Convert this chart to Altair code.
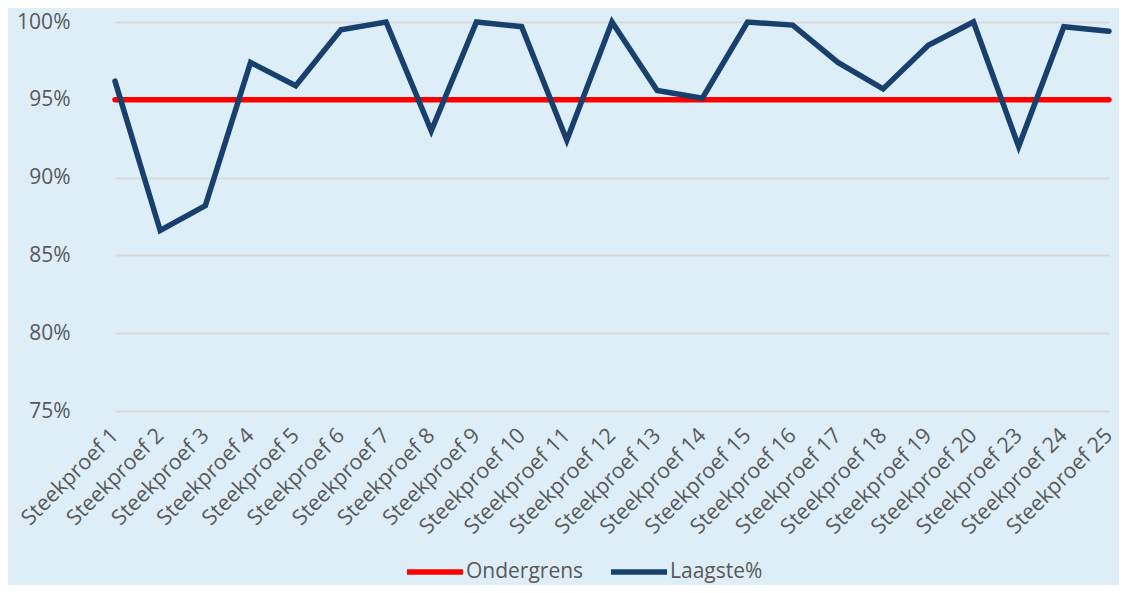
import altair as alt
import pandas as pd

categories = ["Steekproef 1", "Steekproef 2", "Steekproef 3", "Steekproef 4", "Steekproef 5",
              "Steekproef 6", "Steekproef 7", "Steekproef 8", "Steekproef 9", "Steekproef 10",
              "Steekproef 11", "Steekproef 12", "Steekproef 13", "Steekproef 14", "Steekproef 15",
              "Steekproef 16", "Steekproef 17", "Steekproef 18", "Steekproef 19", "Steekproef 20",
              "Steekproef 23", "Steekproef 24", "Steekproef 25"]
laagste = [96.2, 86.6, 88.2, 97.4, 95.9, 99.5, 100.0, 93.0, 100.0, 99.7,
           92.4, 100.0, 95.6, 95.1, 100.0, 99.8, 97.4, 95.7, 98.5, 100.0,
           92.0, 99.7, 99.4]
ondergrens = [95.0] * len(categories)
series_names = ["Ondergrens", "Laagste%"]
series_colors = ["#FF0000", "#17406D"]
y_ticks = [75, 80, 85, 90, 95, 100]

rows = []
for i, c in enumerate(categories):
    rows.append({"cat": c, "serie": "Ondergrens", "val": ondergrens[i], "ord": i})
    rows.append({"cat": c, "serie": "Laagste%", "val": laagste[i], "ord": i})
df = pd.DataFrame(rows)

FONT = "Open Sans"
GRAY = "#595959"

chart = alt.Chart(df).mark_line(strokeWidth=5.5, strokeJoin="miter", strokeCap="round").encode(
    x=alt.X("cat:N", sort=categories, title=None,
            scale=alt.Scale(type="point", range=[23, 1017], padding=0),
            axis=alt.Axis(labelAngle=-45, labelAlign="right", labelBaseline="middle",
                          labelPadding=21, ticks=False, domain=False, grid=False,
                          labelFont=FONT, labelFontSize=21.5, labelColor=GRAY)),
    y=alt.Y("val:Q", title=None,
            scale=alt.Scale(domain=[75, 100], nice=False, zero=False),
            axis=alt.Axis(values=y_ticks, labelExpr="datum.value + '%'", ticks=False,
                          domain=False, grid=True, gridColor="#D9D9D9", gridWidth=2,
                          labelPadding=22, labelFont=FONT, labelFontSize=21,
                          labelColor=GRAY)),
    color=alt.Color("serie:N", sort=series_names,
                    scale=alt.Scale(domain=series_names, range=series_colors),
                    legend=alt.Legend(title=None, orient="none", direction="horizontal",
                                      legendX=312, legendY=519,
                                      symbolType="stroke", symbolSize=3136,
                                      symbolStrokeWidth=5.5, labelFont=FONT,
                                      labelFontSize=21, labelColor=GRAY,
                                      labelOffset=0, columnPadding=16)),
    order=alt.Order("ord:Q"),
).properties(
    width=1027, height=389,
    padding={"left": 84, "top": 14, "right": 0, "bottom": 174},
    autosize=alt.AutoSizeParams(type="none"),
    background="#DDEEF8",
).configure_view(stroke=None, fill=None)

chart.save("out.html", embed_options={"renderer": "svg", "actions": False})
